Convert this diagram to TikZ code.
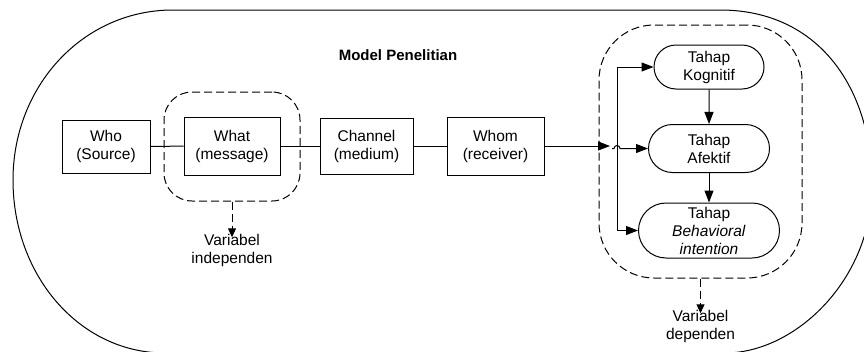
\documentclass[tikz,border=0pt]{standalone}
\usepackage{fontspec}
\setmainfont{Liberation Sans}
\usetikzlibrary{arrows.meta,fit,shapes.misc}

\begin{document}
\begin{tikzpicture}[
  x=1pt, y=-1pt,
  line width=1pt,
  font=\fontsize{15.5}{18}\selectfont,
  stage/.style={draw, align=center, inner sep=0pt},
  phase/.style={draw, rounded rectangle, align=center, inner sep=0pt},
  group/.style={draw, dash pattern=on 8pt off 4pt, inner sep=0pt},
  note/.style={align=center, inner sep=0pt},
  arrow/.style={-{Triangle[length=12pt,width=9pt]}},
  dasharrow/.style={dash pattern=on 8pt off 4pt, -{Triangle[length=9pt,width=8pt]}, shorten >=-4pt}
]
\useasboundingbox (0,0) rectangle (864,351);
% outer frame
\draw (720,10) -- (173,10) .. controls (83,10) and (13,86) .. (13,180)
  .. controls (13,276) and (80,353) .. (165,353) -- (725,353)
  .. controls (795,353) and (872,280) .. (872,185)
  .. controls (872,90) and (820,10) .. (720,10) -- cycle;

\node[font=\fontsize{15}{18}\selectfont\bfseries] (title) at (398,55) {Model Penelitian};

% communication chain
\node[stage, minimum width=88pt, minimum height=53pt] (who) at (106,146.5) {Who\\(Source)};
\node[stage, minimum width=96pt, minimum height=58pt] (what) at (232,146) {What\\(message)};
\node[stage, minimum width=93pt, minimum height=56pt] (channel) at (366.5,146) {Channel\\(medium)};
\node[stage, minimum width=97pt, minimum height=58pt] (whom) at (495.5,146) {Whom\\(receiver)};

% effect stages
\node[phase, minimum width=110pt, minimum height=44pt] (kognitif) at (709,67) {Tahap\\Kognitif};
\node[phase, minimum width=121pt, minimum height=48pt] (afektif) at (709,148.5) {Tahap\\Afektif};
\node[phase, minimum width=141pt, minimum height=55pt] (behavioral) at (709,230.5) {Tahap\\\textit{Behavioral}\\\textit{intention}};

% variable groups
\node[group, rounded corners=28pt, fit={(164,92) (300,201)}] (indepgroup) {};
\node[group, rounded corners=55pt, fit={(599,25) (802,278)}] (depgroup) {};
\node[note] (indep) at (232,250) {Variabel\\independen};
\node[note] (dep) at (700.5,326) {Variabel\\dependen};

\coordinate (entry) at (610,146);
\coordinate (bustop) at (617,67);
\coordinate (busbottom) at (617,230.5);
\coordinate (hop) at (612,148.5);

\draw (who) -- (what);
\draw (what) -- (channel);
\draw (channel) -- (whom);
\draw[arrow] (whom) -- (entry);
\draw (bustop) -- (busbottom);
\draw[arrow] (bustop) -- (kognitif);
\draw[arrow] (hop) -- ++(2,0) arc[start angle=180, end angle=0, radius=3pt] -- (afektif);
\draw[arrow] (busbottom) -- (behavioral);
\draw[arrow] (kognitif) -- (afektif);
\draw[arrow] (afektif) -- (behavioral);
\draw[dasharrow] (indepgroup) -- (indep);
\draw[dasharrow] (depgroup) -- (dep);
\end{tikzpicture}
\end{document}
